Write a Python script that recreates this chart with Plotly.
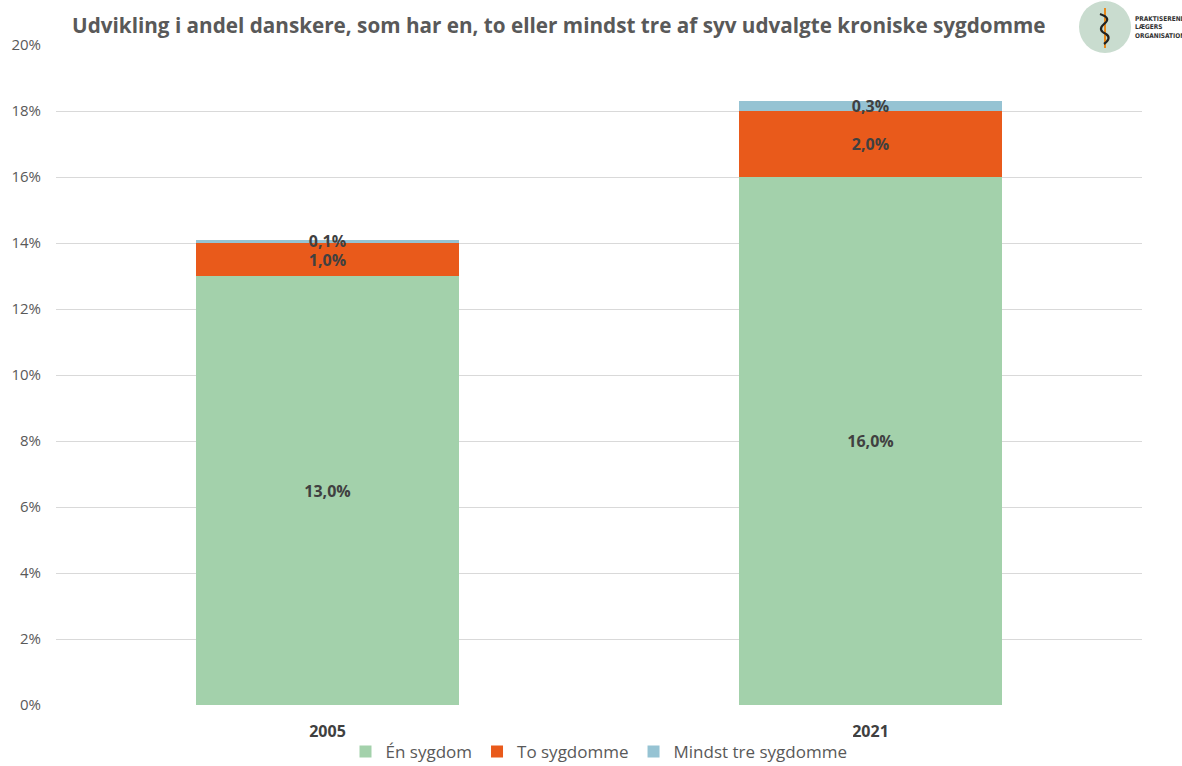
import plotly.graph_objects as go

years = ["2005", "2021"]
series_names = ["Én sygdom", "To sygdomme", "Mindst tre sygdomme"]
en_sygdom = [13.0, 16.0]
to_sygdomme = [1.0, 2.0]
mindst_tre = [0.1, 0.3]
y_ticks = [0, 2, 4, 6, 8, 10, 12, 14, 16, 18, 20]
title_text = "Udvikling i andel danskere, som har en, to eller mindst tre af syv udvalgte kroniske sygdomme"

colors = ["#a3d1ab", "#e95a1b", "#96c3d3"]
FONT = "Open Sans"

def fmt(v):
    return f"{v:.1f}".replace(".", ",") + "%"

fig = go.Figure()
for name, vals, col in zip(series_names, [en_sygdom, to_sygdomme, mindst_tre], colors):
    fig.add_trace(go.Bar(
        x=years, y=vals, name=name, marker=dict(color=col, line=dict(width=0)),
        text=[fmt(v) for v in vals], textposition="inside", insidetextanchor="middle",
        textangle=0, constraintext="none",
        textfont=dict(family=FONT, size=16, color="#404040", weight="bold"),
        cliponaxis=False,
    ))

L, R, T, B = 56, 40, 45, 61
W, H = 1182, 766
pw, ph = W - L - R, H - T - B

def px(x):
    return (x - L) / pw

def py(y):
    return (H - B - y) / ph

fig.update_layout(
    width=W, height=H, autosize=False,
    barmode="stack", bargap=0.515,
    margin=dict(l=L, r=R, t=T, b=B, autoexpand=False),
    plot_bgcolor="white", paper_bgcolor="white",
    uniformtext=dict(minsize=16, mode="show"),
    title=dict(text=f"<b>{title_text}</b>", x=72 / W, xanchor="left",
               y=1 - 26 / H, yanchor="middle", yref="container",
               font=dict(family=FONT, size=20.7, color="#595959")),
    xaxis=dict(tickvals=years, ticktext=[f"<b>{y}</b>" for y in years],
               tickfont=dict(family=FONT, size=16, color="#404040"),
               showgrid=False, showline=False, ticks="", ticklabelstandoff=15),
    yaxis=dict(range=[0, 20], tickvals=y_ticks, ticktext=[f"{t}%" for t in y_ticks],
               tickfont=dict(family=FONT, size=15, color="#595959"),
               showgrid=True, gridcolor="#d9d9d9", gridwidth=1, zeroline=False,
               ticks="", ticklabelstandoff=14),
    legend=dict(orientation="h", x=0.5, xanchor="center", y=-47 / ph, yanchor="middle",
                font=dict(family=FONT, size=17, color="#595959"),
                traceorder="normal", itemwidth=30),
    showlegend=True,
)

# logo (decoration)
fig.add_shape(type="circle", xref="paper", yref="paper",
              x0=px(1079), x1=px(1131), y0=py(53), y1=py(1),
              fillcolor="#c9dccf", line=dict(width=0), layer="above")
fig.add_shape(type="line", xref="paper", yref="paper",
              x0=px(1105), x1=px(1105), y0=py(48), y1=py(8),
              line=dict(color="#e9891b", width=2), layer="above")
snake = "M {a},{b} Q {c},{d} {e},{f} Q {g},{h} {i},{j} Q {k},{l} {m},{n}".format(
    a=px(1100), b=py(14), c=px(1112), d=py(18), e=px(1104), f=py(24),
    g=px(1097), h=py(30), i=px(1106), j=py(34), k=px(1112), l=py(38), m=px(1104), n=py(44))
fig.add_shape(type="path", xref="paper", yref="paper", path=snake,
              line=dict(color="#222222", width=2.2), layer="above")
fig.add_annotation(xref="paper", yref="paper", x=px(1133), y=py(28), xanchor="left",
                   yanchor="middle", align="left",
                   text="<b>PRAKTISERENDE<br>LÆGERS<br>ORGANISATION</b>", showarrow=False,
                   font=dict(family="DejaVu Sans Condensed", size=6.5, color="#333333"))

fig.write_html("out.html", config={"displayModeBar": False},
               post_script="document.body.style.margin='0';")
